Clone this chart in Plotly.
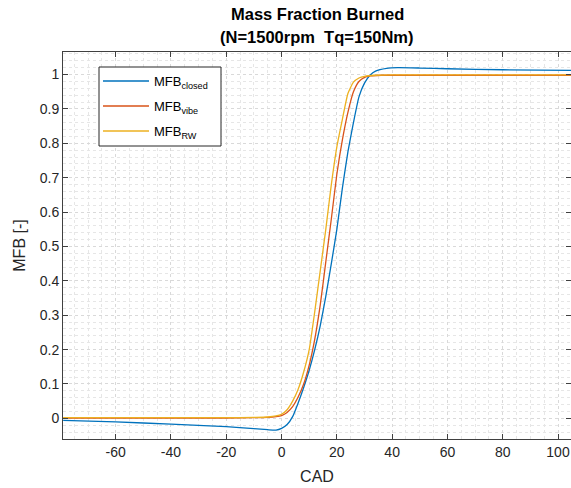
import plotly.graph_objects as go

# Crank angle (deg) and mass fraction burned for each pressure source
cad_closed = [-79, -60, -40, -20, -10, -5, -2, 0, 2, 4, 6, 8, 10, 12, 14, 16, 18, 20,
              22, 24, 26, 28, 30, 32, 34, 38, 42, 50, 60, 80, 104.7]
mfb_closed = [-0.006, -0.010, -0.017, -0.024, -0.030, -0.033, -0.034, -0.029, -0.018,
              0.005, 0.045, 0.090, 0.140, 0.200, 0.270, 0.355, 0.450, 0.550, 0.670,
              0.775, 0.860, 0.935, 0.975, 0.998, 1.010, 1.018, 1.020, 1.019, 1.017,
              1.014, 1.012]

cad_vibe = [-79, -60, -40, -20, -10, -5, -2, 0, 2, 4, 6, 8, 10, 12, 14, 16, 18, 20,
            22, 24, 26, 28, 30, 32, 36, 40, 60, 80, 104.7]
mfb_vibe = [0.001, 0.001, 0.001, 0.001, 0.002, 0.003, 0.005, 0.008, 0.017, 0.034,
            0.062, 0.100, 0.155, 0.230, 0.330, 0.455, 0.580, 0.710, 0.810, 0.890,
            0.950, 0.980, 0.992, 0.996, 0.998, 0.998, 0.998, 0.998, 0.998]

cad_rw = [-79, -60, -40, -20, -10, -5, -2, 0, 2, 4, 6, 8, 10, 12, 14, 16, 18, 20,
          22, 24, 26, 28, 30, 34, 40, 60, 80, 104.7]
mfb_rw = [0.002, 0.002, 0.002, 0.002, 0.003, 0.004, 0.007, 0.012, 0.025, 0.050,
          0.085, 0.135, 0.200, 0.310, 0.430, 0.550, 0.680, 0.790, 0.870, 0.945,
          0.978, 0.990, 0.995, 0.998, 0.999, 0.999, 0.999, 0.999]

x_ticks = [-60, -40, -20, 0, 20, 40, 60, 80, 100]
y_ticks = [0, 0.1, 0.2, 0.3, 0.4, 0.5, 0.6, 0.7, 0.8, 0.9, 1]

series = [
    ("closed", cad_closed, mfb_closed, "#0072BD"),
    ("vibe", cad_vibe, mfb_vibe, "#D95319"),
    ("RW", cad_rw, mfb_rw, "#EDB120"),
]

title_lines = ["Mass Fraction Burned", "(N=1500rpm  Tq=150Nm)"]

FONT = "Liberation Sans, Arial, Helvetica, sans-serif"
W, H = 571, 488
L, R, T, B = 63, 0, 52, 49


def px_x(p):
    return (p - L) / (W - L - R)


def px_y(p):
    return 1 - (p - T) / (H - T - B)


fig = go.Figure()
for name, x, y, color in series:
    fig.add_trace(go.Scatter(
        x=x, y=y, mode="lines", name=f"MFB<sub>{name}</sub>",
        line=dict(color=color, width=1.3, shape="spline", smoothing=0.5),
        showlegend=False,
    ))

# Boxed legend in the upper-left corner
shapes = [dict(type="rect", xref="paper", yref="paper",
               x0=px_x(99), x1=px_x(221), y0=px_y(146), y1=px_y(67),
               line=dict(color="#262626", width=1), fillcolor="white", layer="above")]
annotations = []
for i, (name, _, _, color) in enumerate(series):
    yy = 81 + i * 25
    shapes.append(dict(type="line", xref="paper", yref="paper",
                       x0=px_x(103), x1=px_x(149), y0=px_y(yy), y1=px_y(yy),
                       line=dict(color=color, width=1.3), layer="above"))
    annotations.append(dict(xref="paper", yref="paper", x=px_x(152), y=px_y(yy + 1),
                            xanchor="left", yanchor="middle", showarrow=False,
                            text=f"MFB<sub>{name}</sub>",
                            font=dict(family=FONT, size=13, color="#000000")))

# Two-line bold title centred over the axes
for line_text, yc in zip(title_lines, [14, 37]):
    annotations.append(dict(xref="paper", yref="paper", x=px_x(317), y=px_y(yc),
                            xanchor="center", yanchor="middle", showarrow=False,
                            text=f"<b>{line_text}</b>",
                            font=dict(family=FONT, size=16.5, color="#000000")))

axis_common = dict(
    showline=True, linecolor="#404040", linewidth=1, mirror="ticks",
    ticks="inside", ticklen=5, tickcolor="#404040", tickwidth=1,
    showgrid=True, gridcolor="#d9d9d9", griddash="dot", gridwidth=1,
    zeroline=False, tickfont=dict(family=FONT, size=14, color="#262626"),
)

fig.update_xaxes(
    range=[-79.06, 104.7], tickvals=x_ticks,
    ticktext=[str(v) for v in x_ticks],
    minor=dict(dtick=5, tick0=0, showgrid=True, gridcolor="#e6e6e6", griddash="dot",
               ticks=""),
    title=dict(text="CAD", font=dict(family=FONT, size=16, color="#262626"), standoff=12),
    **axis_common,
)
fig.update_yaxes(
    range=[-0.060, 1.0657], tickvals=y_ticks,
    ticktext=[f"{v:g}" for v in y_ticks],
    minor=dict(dtick=0.02, tick0=0, showgrid=True, gridcolor="#e6e6e6", griddash="dot",
               ticks=""),
    title=dict(text="MFB [-]", font=dict(family=FONT, size=16, color="#262626"), standoff=10),
    **axis_common,
)

fig.update_layout(
    width=W, height=H,
    margin=dict(l=L, r=R, t=T, b=B),
    paper_bgcolor="white", plot_bgcolor="white",
    shapes=shapes, annotations=annotations,
    showlegend=False,
)

fig.write_html("out.html")
